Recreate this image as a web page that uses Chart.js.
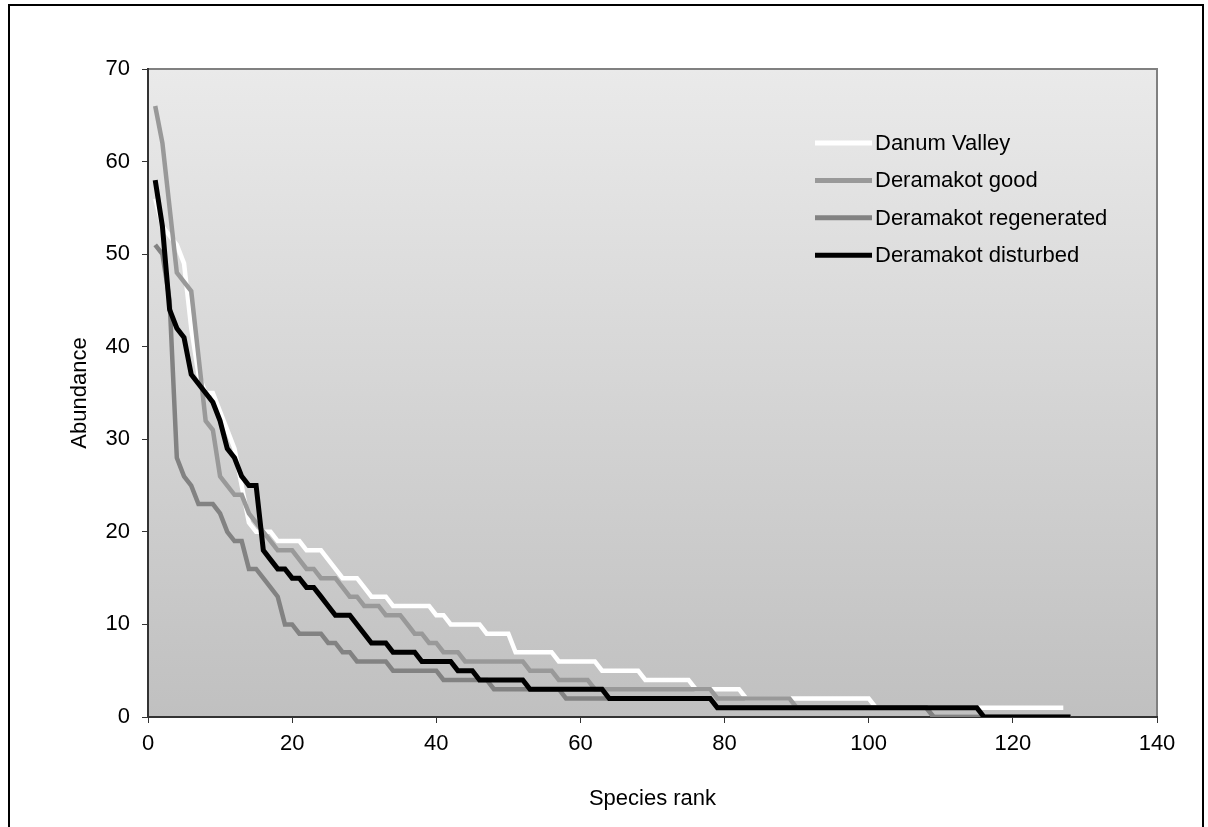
<!DOCTYPE html>
<html>
<head>
<meta charset="utf-8">
<script src="https://cdn.jsdelivr.net/npm/chart.js@4.4.1/dist/chart.umd.min.js"></script>
<style>
  body { margin: 0; background: #fff; }
  #chart { display: block; }
</style>
</head>
<body>
<canvas id="chart" width="1208" height="827"></canvas>
<script>
const series_names = ["Danum Valley", "Deramakot good", "Deramakot regenerated", "Deramakot disturbed"];
const series_colors = ["#ffffff", "#999999", "#828282", "#000000"];
const x_ticks = [0, 20, 40, 60, 80, 100, 120, 140];
const y_ticks = [0, 10, 20, 30, 40, 50, 60, 70];

// abundance by species rank (rank 1 first)
const danum_valley = [
    56, 53, 52, 51, 49, 42, 37, 35, 35, 33,
    31, 29, 25, 21, 20, 20, 20, 19, 19, 19,
    19, 18, 18, 18, 17, 16, 15, 15, 15, 14,
    13, 13, 13, 12, 12, 12, 12, 12, 12, 11,
    11, 10, 10, 10, 10, 10, 9, 9, 9, 9,
    7, 7, 7, 7, 7, 7, 6, 6, 6, 6,
    6, 6, 5, 5, 5, 5, 5, 5, 4, 4,
    4, 4, 4, 4, 4, 3, 3, 3, 3, 3,
    3, 3, 2, 2, 2, 2, 2, 2, 2, 2,
    2, 2, 2, 2, 2, 2, 2, 2, 2, 2,
    1, 1, 1, 1, 1, 1, 1, 1, 1, 1,
    1, 1, 1, 1, 1, 1, 1, 1, 1, 1,
    1, 1, 1, 1, 1, 1, 1
];
const deramakot_good = [
    66, 62, 55, 48, 47, 46, 39, 32, 31, 26,
    25, 24, 24, 22, 21, 20, 19, 18, 18, 18,
    17, 16, 16, 15, 15, 15, 14, 13, 13, 12,
    12, 12, 11, 11, 11, 10, 9, 9, 8, 8,
    7, 7, 7, 6, 6, 6, 6, 6, 6, 6,
    6, 6, 5, 5, 5, 5, 4, 4, 4, 4,
    4, 3, 3, 3, 3, 3, 3, 3, 3, 3,
    3, 3, 3, 3, 3, 3, 3, 3, 2, 2,
    2, 2, 2, 2, 2, 2, 2, 2, 2, 1,
    1, 1, 1, 1, 1, 1, 1, 1, 1, 1,
    1, 1, 1, 1, 1, 1, 1, 1, 0, 0,
    0, 0, 0, 0, 0, 0, 0, 0, 0, 0,
    0, 0, 0, 0, 0, 0, 0, 0
];
const deramakot_regenerated = [
    51, 50, 45, 28, 26, 25, 23, 23, 23, 22,
    20, 19, 19, 16, 16, 15, 14, 13, 10, 10,
    9, 9, 9, 9, 8, 8, 7, 7, 6, 6,
    6, 6, 6, 5, 5, 5, 5, 5, 5, 5,
    4, 4, 4, 4, 4, 4, 4, 3, 3, 3,
    3, 3, 3, 3, 3, 3, 3, 2, 2, 2,
    2, 2, 2, 2, 2, 2, 2, 2, 2, 2,
    2, 2, 2, 2, 2, 2, 2, 2, 1, 1,
    1, 1, 1, 1, 1, 1, 1, 1, 1, 1,
    1, 1, 1, 1, 1, 1, 1, 1, 1, 1,
    1, 1, 1, 1, 1, 1, 1, 1, 0, 0,
    0, 0, 0, 0, 0, 0, 0, 0, 0, 0,
    0, 0, 0, 0, 0, 0, 0, 0
];
const deramakot_disturbed = [
    58, 53, 44, 42, 41, 37, 36, 35, 34, 32,
    29, 28, 26, 25, 25, 18, 17, 16, 16, 15,
    15, 14, 14, 13, 12, 11, 11, 11, 10, 9,
    8, 8, 8, 7, 7, 7, 7, 6, 6, 6,
    6, 6, 5, 5, 5, 4, 4, 4, 4, 4,
    4, 4, 3, 3, 3, 3, 3, 3, 3, 3,
    3, 3, 3, 2, 2, 2, 2, 2, 2, 2,
    2, 2, 2, 2, 2, 2, 2, 2, 1, 1,
    1, 1, 1, 1, 1, 1, 1, 1, 1, 1,
    1, 1, 1, 1, 1, 1, 1, 1, 1, 1,
    1, 1, 1, 1, 1, 1, 1, 1, 1, 1,
    1, 1, 1, 1, 1, 0, 0, 0, 0, 0,
    0, 0, 0, 0, 0, 0, 0, 0
];

const all_series = [danum_valley, deramakot_good, deramakot_regenerated, deramakot_disturbed];
const font_family = "'Liberation Sans', Arial, sans-serif";

Chart.defaults.font.family = font_family;
Chart.defaults.font.size = 22;
Chart.defaults.color = "#000";

// page frame, plot background and plot border
const frame = {
    id: 'frame',
    beforeDraw(chart) {
        const ctx = chart.ctx;
        const area = chart.chartArea;
        ctx.save();
        ctx.fillStyle = "#fff";
        ctx.fillRect(0, 0, chart.width, chart.height);
        ctx.strokeStyle = "#000";
        ctx.lineWidth = 2;
        ctx.strokeRect(9, 5, 1194, 830);

        let grad = ctx.createLinearGradient(0, area.top, 0, area.bottom);
        grad.addColorStop(0, "#eaeaea");
        grad.addColorStop(1, "#c0c0c0");
        ctx.fillStyle = grad;
        ctx.fillRect(area.left, area.top, area.right - area.left, area.bottom - area.top);

        ctx.strokeStyle = "#808080";
        ctx.lineWidth = 2;
        ctx.strokeRect(area.left, area.top, area.right - area.left, area.bottom - area.top);
        ctx.restore();
    }
};

// legend inside the plot, Excel style
const legend_box = {
    id: 'legend_box',
    afterDatasetsDraw(chart) {
        const ctx = chart.ctx;
        ctx.save();
        ctx.font = "22px " + font_family;
        ctx.textBaseline = "middle";
        ctx.fillStyle = "#000";
        chart.data.datasets.forEach((ds, i) => {
            const y = 143 + i * 37.4;
            ctx.strokeStyle = ds.borderColor;
            ctx.lineWidth = 5;
            ctx.beginPath();
            ctx.moveTo(815, y);
            ctx.lineTo(872, y);
            ctx.stroke();
            ctx.fillText(ds.label, 875, y + 1);
        });
        ctx.restore();
    }
};

let abundance_chart = new Chart(
    document.getElementById('chart'),
    {
        type: 'line',
        data: {
            datasets: all_series.map((values, i) => ({
                label: series_names[i],
                data: values.map((v, r) => ({ x: r + 1, y: v })),
                borderColor: series_colors[i],
                backgroundColor: series_colors[i],
                borderWidth: i == 3 ? 5 : 4.5,
                pointRadius: 0,
                tension: 0,
                fill: false,
                order: 3 - i
            }))
        },
        options: {
            responsive: false,
            devicePixelRatio: 1,
            animation: false,
            layout: {
                padding: { left: 10, right: 51, top: 69, bottom: 10 }
            },
            scales: {
                x: {
                    type: 'linear',
                    min: 0,
                    max: 140,
                    afterBuildTicks: scale => { scale.ticks = x_ticks.map(v => ({ value: v })); },
                    afterFit: scale => { scale.height = 100; },
                    grid: { drawOnChartArea: false, drawTicks: true, tickLength: 6, color: "#333" },
                    border: { display: true, color: "#333", width: 2 },
                    ticks: { padding: 8, maxRotation: 0 },
                    title: {
                        display: true,
                        text: 'Species rank',
                        padding: { top: 0, bottom: 5 }
                    }
                },
                y: {
                    type: 'linear',
                    min: 0,
                    max: 70,
                    afterBuildTicks: scale => { scale.ticks = y_ticks.map(v => ({ value: v })); },
                    afterFit: scale => { scale.width = 138; },
                    grid: { drawOnChartArea: false, drawTicks: true, tickLength: 6, color: "#333" },
                    border: { display: true, color: "#333", width: 2 },
                    ticks: { padding: 12 },
                    title: {
                        display: true,
                        text: 'Abundance',
                        padding: { top: 57, bottom: 0 }
                    }
                }
            },
            plugins: {
                legend: { display: false },
                tooltip: { enabled: false }
            }
        },
        plugins: [frame, legend_box]
    }
);
</script>
</body>
</html>
